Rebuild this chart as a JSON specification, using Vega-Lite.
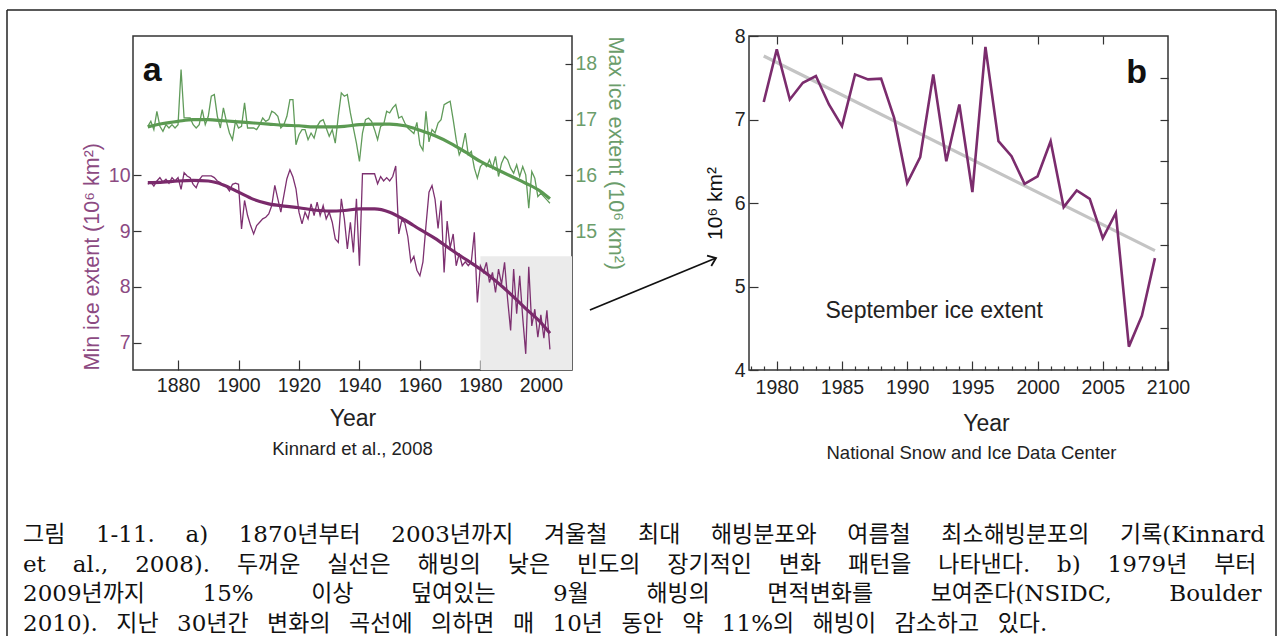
{
  "$schema": "https://vega.github.io/schema/vega-lite/v6.json",
  "padding": {"left": 6, "top": 9, "right": 0, "bottom": 0},
  "background": "white",
  "bounds": "flush",
  "spacing": 434,
  "config": {
    "font": "Liberation Sans",
    "axis": {"grid": false, "domain": false, "labelFont": "Liberation Sans", "titleFont": "Liberation Sans", "labelFontSize": 19.5, "titleFontWeight": "normal", "labelColor": "#222", "titleColor": "#222", "tickColor": "#333", "tickWidth": 1.2, "labelFlush": false, "labelOverlap": false},
    "title": {"font": "Liberation Sans", "fontWeight": "normal", "color": "#222"},
    "text": {"font": "Liberation Sans"}
  },
  "datasets": {
    "raw": [
      {"year":1870,"min":9.84,"max":16.88},{"year":1871,"min":9.88,"max":16.97},{"year":1872,"min":9.81,"max":16.82},{"year":1873,"min":9.90,"max":17.15},{"year":1874,"min":9.96,"max":16.88},{"year":1875,"min":9.88,"max":16.79},{"year":1876,"min":9.93,"max":16.91},{"year":1877,"min":9.86,"max":16.85},{"year":1878,"min":9.96,"max":16.91},{"year":1879,"min":9.90,"max":16.85},
      {"year":1880,"min":9.96,"max":16.91},{"year":1881,"min":9.75,"max":17.90},{"year":1882,"min":10.05,"max":17.03},{"year":1883,"min":9.99,"max":17.03},{"year":1884,"min":9.96,"max":17.03},{"year":1885,"min":9.84,"max":16.91},{"year":1886,"min":9.78,"max":16.85},{"year":1887,"min":9.92,"max":16.91},{"year":1888,"min":9.99,"max":17.18},{"year":1889,"min":9.99,"max":16.91},
      {"year":1890,"min":9.99,"max":17.06},{"year":1891,"min":9.99,"max":17.42},{"year":1892,"min":9.96,"max":17.45},{"year":1893,"min":9.90,"max":17.06},{"year":1894,"min":9.87,"max":16.85},{"year":1895,"min":9.82,"max":17.21},{"year":1896,"min":9.80,"max":16.97},{"year":1897,"min":9.72,"max":16.76},{"year":1898,"min":9.84,"max":16.64},{"year":1899,"min":9.86,"max":16.97},
      {"year":1900,"min":9.84,"max":16.85},{"year":1901,"min":9.04,"max":16.88},{"year":1902,"min":9.55,"max":17.30},{"year":1903,"min":9.28,"max":16.85},{"year":1904,"min":9.10,"max":16.85},{"year":1905,"min":8.95,"max":16.85},{"year":1906,"min":9.10,"max":16.82},{"year":1907,"min":9.16,"max":16.91},{"year":1908,"min":9.22,"max":17.03},{"year":1909,"min":9.25,"max":16.97},
      {"year":1910,"min":9.31,"max":17.00},{"year":1911,"min":9.46,"max":17.15},{"year":1912,"min":9.82,"max":17.12},{"year":1913,"min":9.58,"max":17.06},{"year":1914,"min":9.34,"max":16.85},{"year":1915,"min":9.64,"max":16.91},{"year":1916,"min":9.94,"max":17.06},{"year":1917,"min":10.10,"max":17.36},{"year":1918,"min":9.97,"max":17.36},{"year":1919,"min":9.76,"max":16.55},
      {"year":1920,"min":9.34,"max":16.73},{"year":1921,"min":9.13,"max":16.82},{"year":1922,"min":9.34,"max":16.82},{"year":1923,"min":9.22,"max":16.64},{"year":1924,"min":9.49,"max":16.76},{"year":1925,"min":9.28,"max":16.67},{"year":1926,"min":9.52,"max":16.88},{"year":1927,"min":9.28,"max":16.97},{"year":1928,"min":9.46,"max":17.00},{"year":1929,"min":9.22,"max":16.85},
      {"year":1930,"min":9.34,"max":16.70},{"year":1931,"min":9.16,"max":16.82},{"year":1932,"min":8.86,"max":16.58},{"year":1933,"min":8.80,"max":17.06},{"year":1934,"min":9.58,"max":17.48},{"year":1935,"min":9.22,"max":17.42},{"year":1936,"min":8.68,"max":17.45},{"year":1937,"min":9.16,"max":17.12},{"year":1938,"min":8.62,"max":16.85},{"year":1939,"min":9.58,"max":16.58},
      {"year":1940,"min":8.38,"max":16.25},{"year":1941,"min":10.03,"max":16.76},{"year":1942,"min":10.03,"max":17.00},{"year":1943,"min":10.03,"max":17.03},{"year":1944,"min":10.03,"max":16.97},{"year":1945,"min":10.03,"max":16.82},{"year":1946,"min":9.85,"max":16.64},{"year":1947,"min":9.98,"max":16.88},{"year":1948,"min":9.90,"max":16.91},{"year":1949,"min":9.96,"max":17.15},
      {"year":1950,"min":9.90,"max":17.12},{"year":1951,"min":9.98,"max":17.21},{"year":1952,"min":10.17,"max":17.27},{"year":1953,"min":8.95,"max":17.03},{"year":1954,"min":9.20,"max":17.06},{"year":1955,"min":9.15,"max":16.94},{"year":1956,"min":8.90,"max":16.85},{"year":1957,"min":8.45,"max":16.80},{"year":1958,"min":8.55,"max":16.75},{"year":1959,"min":8.30,"max":16.95},
      {"year":1960,"min":8.20,"max":16.55},{"year":1961,"min":8.45,"max":16.45},{"year":1962,"min":9.10,"max":17.15},{"year":1963,"min":9.70,"max":16.60},{"year":1964,"min":9.82,"max":16.82},{"year":1965,"min":9.57,"max":16.76},{"year":1966,"min":9.05,"max":16.94},{"year":1967,"min":9.55,"max":17.00},{"year":1968,"min":8.26,"max":17.27},{"year":1969,"min":9.18,"max":17.30},
      {"year":1970,"min":8.70,"max":17.33},{"year":1971,"min":8.95,"max":17.00},{"year":1972,"min":8.38,"max":16.64},{"year":1973,"min":8.60,"max":16.37},{"year":1974,"min":8.38,"max":16.49},{"year":1975,"min":8.45,"max":16.76},{"year":1976,"min":8.38,"max":16.37},{"year":1977,"min":8.45,"max":16.43},{"year":1978,"min":8.98,"max":16.13},{"year":1979,"min":7.72,"max":15.95},
      {"year":1980,"min":8.38,"max":16.16},{"year":1981,"min":8.26,"max":16.22},{"year":1982,"min":8.44,"max":16.16},{"year":1983,"min":8.08,"max":16.28},{"year":1984,"min":8.26,"max":16.13},{"year":1985,"min":7.90,"max":16.34},{"year":1986,"min":8.32,"max":15.98},{"year":1987,"min":8.05,"max":16.22},{"year":1988,"min":8.44,"max":16.34},{"year":1989,"min":7.78,"max":16.28},
      {"year":1990,"min":7.22,"max":16.13},{"year":1991,"min":8.32,"max":16.04},{"year":1992,"min":7.52,"max":16.19},{"year":1993,"min":8.20,"max":15.98},{"year":1994,"min":7.45,"max":16.16},{"year":1995,"min":6.80,"max":16.01},{"year":1996,"min":8.36,"max":15.41},{"year":1997,"min":7.30,"max":16.07},{"year":1998,"min":7.60,"max":15.95},{"year":1999,"min":7.10,"max":15.62},
      {"year":2000,"min":7.50,"max":15.68},{"year":2001,"min":7.08,"max":15.62},{"year":2002,"min":7.58,"max":15.56},{"year":2003,"min":6.88,"max":15.50}
    ],
    "smooth": [
      {"year":1870,"min":9.87,"max":16.87},{"year":1875,"min":9.88,"max":16.93},{"year":1880,"min":9.90,"max":16.97},{"year":1885,"min":9.91,"max":17.00},{"year":1890,"min":9.90,"max":17.00},{"year":1895,"min":9.83,"max":16.98},{"year":1900,"min":9.70,"max":16.96},{"year":1905,"min":9.57,"max":16.94},{"year":1910,"min":9.49,"max":16.92},{"year":1915,"min":9.45,"max":16.90},{"year":1920,"min":9.42,"max":16.89},{"year":1925,"min":9.38,"max":16.87},{"year":1930,"min":9.36,"max":16.87},{"year":1935,"min":9.37,"max":16.88},{"year":1940,"min":9.40,"max":16.91},{"year":1945,"min":9.40,"max":16.92},{"year":1950,"min":9.34,"max":16.92},{"year":1955,"min":9.20,"max":16.89},{"year":1960,"min":9.03,"max":16.81},{"year":1965,"min":8.87,"max":16.71},{"year":1970,"min":8.68,"max":16.58},{"year":1975,"min":8.50,"max":16.42},{"year":1980,"min":8.32,"max":16.25},{"year":1985,"min":8.11,"max":16.12},{"year":1990,"min":7.87,"max":15.99},{"year":1995,"min":7.61,"max":15.86},{"year":2000,"min":7.36,"max":15.71},{"year":2003,"min":7.17,"max":15.58}
    ],
    "box": [{"x0":1980,"x1":2010.3,"y0":6.51,"y1":8.55}],
    "nsidc": [
      {"year":1979,"ext":7.21},{"year":1980,"ext":7.84},{"year":1981,"ext":7.24},{"year":1982,"ext":7.44},{"year":1983,"ext":7.52},{"year":1984,"ext":7.18},{"year":1985,"ext":6.92},{"year":1986,"ext":7.54},{"year":1987,"ext":7.48},{"year":1988,"ext":7.49},
      {"year":1989,"ext":7.02},{"year":1990,"ext":6.24},{"year":1991,"ext":6.55},{"year":1992,"ext":7.54},{"year":1993,"ext":6.50},{"year":1994,"ext":7.18},{"year":1995,"ext":6.13},{"year":1996,"ext":7.87},{"year":1997,"ext":6.74},{"year":1998,"ext":6.56},
      {"year":1999,"ext":6.23},{"year":2000,"ext":6.32},{"year":2001,"ext":6.74},{"year":2002,"ext":5.95},{"year":2003,"ext":6.15},{"year":2004,"ext":6.05},{"year":2005,"ext":5.58},{"year":2006,"ext":5.88},{"year":2007,"ext":4.28},{"year":2008,"ext":4.65},{"year":2009,"ext":5.34}
    ],
    "trend": [{"year":1979,"ext":7.76},{"year":2009,"ext":5.43}],
    "caption": [
      {"line":1,"text":"그림\u2003\u20041-11.\u2003\u2004a)\u2003\u20041870년부터\u2003\u20042003년까지\u2003\u2004겨울철\u2003\u2004최대\u2003\u2004해빙분포와\u2003\u2004여름철\u2003\u2004최소해빙분포의\u2003\u2004기록(Kinnard"},
      {"line":2,"text":"et\u2003\u2006al.,\u2003\u20062008).\u2003\u2006두꺼운\u2003\u2006실선은\u2003\u2006해빙의\u2003\u2006낮은\u2003\u2006빈도의\u2003\u2006장기적인\u2003\u2006변화\u2003\u2006패턴을\u2003\u2006나타낸다.\u2003\u2006b)\u2003\u20061979년\u2003\u2006부터"},
      {"line":3,"text":"2009년까지\u2003\u2003\u200215%\u2003\u2003\u2002이상\u2003\u2003\u2002덮여있는\u2003\u2003\u20029월\u2003\u2003\u2002해빙의\u2003\u2003\u2002면적변화를\u2003\u2003\u2002보여준다(NSIDC,\u2003\u2003\u2002Boulder"},
      {"line":4,"text":"2010). \u00A0\u2006지난 \u00A0\u200630년간 \u00A0\u2006변화의 \u00A0\u2006곡선에 \u00A0\u2006의하면 \u00A0\u2006매 \u00A0\u200610년 \u00A0\u2006동안 \u00A0\u2006약 \u00A0\u200611%의 \u00A0\u2006해빙이 \u00A0\u2006감소하고 \u00A0\u2006있다."}
    ]
  },
  "vconcat": [
    {
      "bounds": "flush",
      "spacing": 0,
      "hconcat": [
        {"width": 126, "height": 334, "view": {"stroke": null}, "data": {"values": []}, "mark": "rule", "encoding": {}},
        {
          "width": 439,
          "height": 334,
          "view": {"stroke": "#333", "strokeWidth": 1.5},
          "title": {"text": "Kinnard et al., 2008", "orient": "bottom", "fontSize": 18.5, "offset": 9, "color": "#222"},
          "layer": [
            {
              "layer": [
                {
                  "data": {"name": "box"},
                  "mark": {"type": "rect", "color": "#ebebeb"},
                  "encoding": {
                    "x": {"field": "x0", "type": "quantitative", "scale": {"domain": [1865.1, 2010.3], "nice": false, "zero": false}, "axis": {"values": [1880,1900,1920,1940,1960,1980,2000], "format": "d", "tickSize": -10, "labelPadding": 16, "title": "Year", "titleFontSize": 23, "titlePadding": 13, "titleColor": "#222"}},
                    "x2": {"field": "x1"},
                    "y": {"field": "y0", "type": "quantitative", "scale": {"domain": [6.51, 12.5], "nice": false, "zero": false}, "axis": {"orient": "left", "values": [7,8,9,10], "format": "d", "title": "Min ice extent (10⁶ km²)", "titleColor": "#8c4a82", "labelColor": "#8c4a82", "tickSize": -8, "labelPadding": 11, "titlePadding": 5, "titleFontSize": 21.5, "titleAnchor": "start"}},
                    "y2": {"field": "y1"}
                  }
                },
                {
                  "data": {"name": "raw"},
                  "mark": {"type": "line", "color": "#7d3070", "strokeWidth": 1.3},
                  "encoding": {"x": {"field": "year", "type": "quantitative"}, "y": {"field": "min", "type": "quantitative"}}
                },
                {
                  "data": {"name": "smooth"},
                  "mark": {"type": "line", "color": "#7a2a6b", "strokeWidth": 3.2, "interpolate": "monotone"},
                  "encoding": {"x": {"field": "year", "type": "quantitative"}, "y": {"field": "min", "type": "quantitative"}}
                },
                {
                  "data": {"values": [{}]},
                  "mark": {"type": "text", "text": "a", "fontSize": 34, "fontWeight": "bold", "align": "left", "baseline": "alphabetic", "color": "#111"},
                  "encoding": {"x": {"datum": 1868.35, "type": "quantitative"}, "y": {"datum": 11.69, "type": "quantitative"}}
                }
              ]
            },
            {
              "layer": [
                {
                  "data": {"name": "raw"},
                  "mark": {"type": "line", "color": "#609b5a", "strokeWidth": 1.3},
                  "encoding": {"x": {"field": "year", "type": "quantitative"}, "y": {"field": "max", "type": "quantitative", "scale": {"domain": [12.51, 18.5], "nice": false, "zero": false}, "axis": {"orient": "right", "values": [15,16,17,18], "format": "d", "title": "Max ice extent (10⁶ km²)", "titleColor": "#6b9d6b", "labelColor": "#6b9d6b", "tickSize": -7, "labelPadding": 10, "titlePadding": 7, "titleFontSize": 21.5, "titleAnchor": "end", "titleAlign": "left"}}}
                },
                {
                  "data": {"name": "smooth"},
                  "mark": {"type": "line", "color": "#5b9a52", "strokeWidth": 3.2, "interpolate": "monotone"},
                  "encoding": {"x": {"field": "year", "type": "quantitative"}, "y": {"field": "max", "type": "quantitative"}}
                }
              ]
            }
          ],
          "resolve": {"scale": {"y": "independent"}, "axis": {"y": "independent"}}
        },
        {"width": 177, "height": 334, "view": {"stroke": null}, "data": {"values": []}, "mark": "rule", "encoding": {}},
        {
          "width": 419,
          "height": 334,
          "view": {"stroke": "#333", "strokeWidth": 1.5},
          "title": {"text": "National Snow and Ice Data Center", "orient": "bottom", "fontSize": 18.5, "offset": 8, "dx": 13, "color": "#222"},
          "layer": [
            {
              "data": {"name": "trend"},
              "mark": {"type": "line", "color": "#c4c4c4", "strokeWidth": 3.2},
              "encoding": {
                "x": {"field": "year", "type": "quantitative", "scale": {"domain": [1977.87, 2010], "nice": false, "zero": false}, "axis": null},
                "y": {"field": "ext", "type": "quantitative", "scale": {"domain": [4, 8], "nice": false, "zero": false}, "axis": null}
              }
            },
            {
              "data": {"name": "nsidc"},
              "mark": {"type": "line", "color": "#7b2c6d", "strokeWidth": 2.6},
              "encoding": {
                "x": {"field": "year", "type": "quantitative", "axis": {"orient": "bottom", "values": [1978,1979,1980,1981,1982,1983,1984,1985,1986,1987,1988,1989,1990,1991,1992,1993,1994,1995,1996,1997,1998,1999,2000,2001,2002,2003,2004,2005,2006,2007,2008,2009,2010], "format": "d", "labelExpr": "datum.value % 5 === 0 ? (datum.value === 2010 ? '2100' : datum.label) : ''", "tickSize": {"condition": {"test": "datum.value % 5 === 0", "value": -9}, "value": -4}, "labelPadding": 17, "title": "Year", "titleFontSize": 23, "titlePadding": 11, "titleX": 237, "titleColor": "#222"}},
                "y": {"field": "ext", "type": "quantitative", "axis": {"orient": "left", "values": [4,4.5,5,5.5,6,6.5,7,7.5,8], "format": "d", "labelExpr": "datum.value % 1 === 0 ? datum.label : ''", "tickSize": {"condition": {"test": "datum.value % 1 === 0", "value": -9}, "value": -5}, "labelPadding": 13, "title": "10⁶ km²", "titleFontSize": 21, "titlePadding": 9, "titleColor": "#111"}}
              }
            },
            {
              "data": {"name": "nsidc"},
              "mark": {"type": "point", "opacity": 0},
              "encoding": {
                "x": {"field": "year", "type": "quantitative", "axis": {"orient": "top", "values": [1980,1985,1990,1995,2000,2005], "tickSize": -8, "labels": false, "title": null}},
                "y": {"field": "ext", "type": "quantitative", "axis": {"orient": "right", "values": [4.5,5,5.5,6,6.5,7,7.5], "tickSize": -8, "labels": false, "title": null}}
              }
            },
            {
              "data": {"values": [{}]},
              "mark": {"type": "text", "text": "b", "fontSize": 34, "fontWeight": "bold", "align": "left", "baseline": "alphabetic", "color": "#111"},
              "encoding": {"x": {"datum": 2006.8, "type": "quantitative", "axis": null}, "y": {"datum": 7.437, "type": "quantitative", "axis": null}}
            },
            {
              "data": {"values": [{}]},
              "mark": {"type": "text", "text": "September ice extent", "fontSize": 23, "align": "center", "baseline": "middle", "color": "#222"},
              "encoding": {"x": {"datum": 1992.07, "type": "quantitative", "axis": null}, "y": {"datum": 4.707, "type": "quantitative", "axis": null}}
            },
            {
              "data": {"values": [{}]},
              "mark": {"type": "rule", "color": "#111", "strokeWidth": 1.8},
              "encoding": {"x": {"datum": 1965.67, "type": "quantitative", "axis": null}, "y": {"datum": 4.719, "type": "quantitative", "axis": null}, "x2": {"datum": 1975.34}, "y2": {"datum": 5.341}}
            },
            {
              "data": {"values": [{}]},
              "mark": {"type": "point", "shape": "M -1 -0.75 L 0 0 L -1 0.75", "filled": false, "color": "#111", "strokeWidth": 1.8, "size": 220, "angle": -22.4, "opacity": 1},
              "encoding": {"x": {"datum": 1975.34, "type": "quantitative", "axis": null}, "y": {"datum": 5.341, "type": "quantitative", "axis": null}}
            }
          ],
          "resolve": {"axis": {"x": "independent", "y": "independent"}}
        }
      ]
    },
    {
      "width": 1269,
      "height": 166,
      "view": {"stroke": null},
      "layer": [
        {
          "data": {"name": "caption"},
          "mark": {"type": "text", "align": "left", "baseline": "middle", "font": "DejaVu Serif, Noto Sans CJK KR", "fontSize": 23, "color": "#111"},
          "encoding": {
            "x": {"datum": 0.01261, "type": "quantitative", "scale": {"domain": [0, 1], "nice": false, "zero": false}, "axis": null},
            "y": {"field": "line", "type": "quantitative", "scale": {"domain": [-1.1886, 4.4006], "reverse": true, "nice": false, "zero": false}, "axis": null},
            "text": {"field": "text"}
          }
        },
        {
          "data": {"values": [{}]},
          "mark": {"type": "rule", "color": "#222", "strokeWidth": 1.5},
          "encoding": {"x": {"datum": 0, "type": "quantitative"}, "y": {"datum": -16.6768, "type": "quantitative"}, "y2": {"datum": 4.4006}}
        },
        {
          "data": {"values": [{}]},
          "mark": {"type": "rule", "color": "#222", "strokeWidth": 1.5},
          "encoding": {"x": {"datum": 1, "type": "quantitative"}, "y": {"datum": -16.6768, "type": "quantitative"}, "y2": {"datum": 4.4006}}
        },
        {
          "data": {"values": [{}]},
          "mark": {"type": "rule", "color": "#222", "strokeWidth": 1.5},
          "encoding": {"x": {"datum": 0, "type": "quantitative"}, "x2": {"datum": 1}, "y": {"datum": -16.6768, "type": "quantitative"}}
        }
      ]
    }
  ]
}
